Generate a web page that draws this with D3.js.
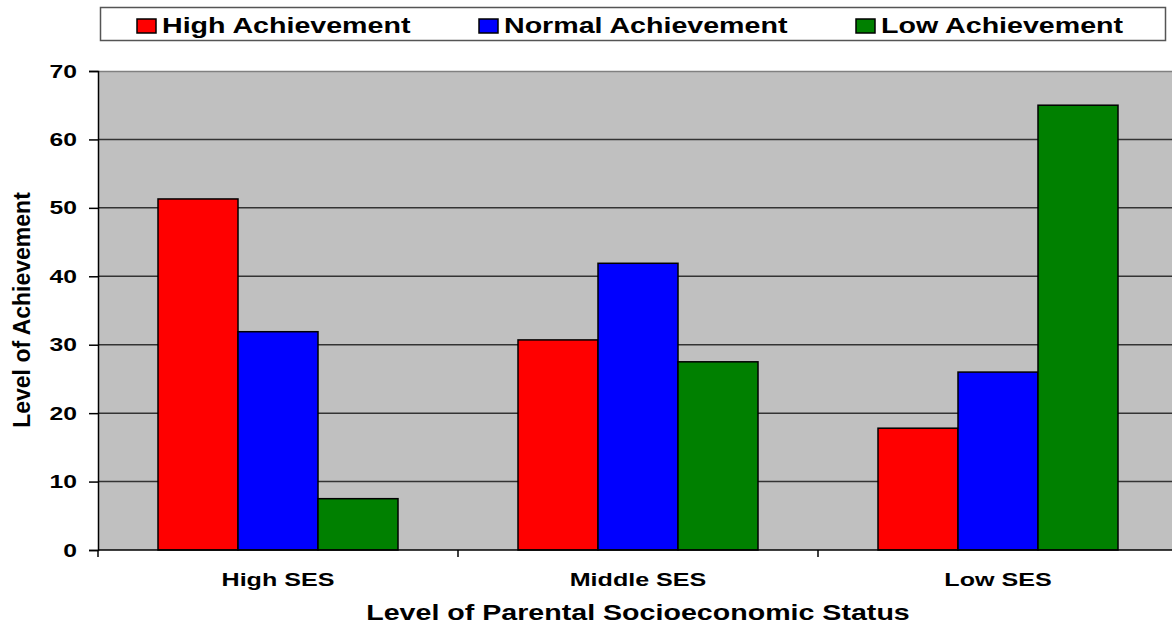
<!DOCTYPE html>
<html>
<head>
<meta charset="utf-8">
<script src="https://cdn.jsdelivr.net/npm/d3@7"></script>
<style>
  body { margin: 0; background: #fff; }
  svg { display: block; font-family: Arial, "Liberation Sans", sans-serif; }
</style>
</head>
<body>
<svg></svg>
<script>
const categories = ['High SES', 'Middle SES', 'Low SES'];
const seriesNames = ['High Achievement', 'Normal Achievement', 'Low Achievement'];
const highAch = [51.3, 30.7, 17.8];
const normalAch = [31.9, 41.9, 26.0];
const lowAch = [7.5, 27.5, 65.0];
const yTicks = [0, 10, 20, 30, 40, 50, 60, 70];
const colors = ['#ff0000', '#0000ff', '#008000'];

const seriesValues = [highAch, normalAch, lowAch];

const width = 1172;
const height = 628;
const margin = { top: 71, right: -6, bottom: 78, left: 98 };
const innerW = width - margin.left - margin.right;
const innerH = height - margin.top - margin.bottom;

// the original text is drawn wide, stretch glyphs to match
function widen(sel, k) {
  sel.each(function() {
    const w = this.getComputedTextLength();
    d3.select(this)
      .attr('textLength', w * k)
      .attr('lengthAdjust', 'spacingAndGlyphs');
  });
}

const svg = d3.select('svg')
  .attr('width', width)
  .attr('height', height);

const chart = svg.append('g')
  .attr('transform', `translate(${margin.left}, ${margin.top})`);

const xScale = d3.scaleBand()
  .domain(categories)
  .range([0, innerW])
  .paddingInner(0)
  .paddingOuter(0);

const xInner = d3.scaleBand()
  .domain(seriesNames)
  .range([60, xScale.bandwidth() - 60]);

const yScale = d3.scaleLinear()
  .domain([0, 70])
  .range([innerH, 0]);

// plot background
chart.append('rect')
  .attr('x', 0)
  .attr('y', 0)
  .attr('width', innerW)
  .attr('height', innerH)
  .attr('fill', '#c0c0c0');

// top border
chart.append('line')
  .attr('x1', 0).attr('x2', innerW)
  .attr('y1', 0.5).attr('y2', 0.5)
  .attr('stroke', '#808080')
  .attr('stroke-width', 1.5);

// grid lines
chart.append('g')
  .selectAll('line')
  .data(yTicks.filter(d => d > 0 && d < 70))
  .enter()
  .append('line')
  .attr('x1', 0).attr('x2', innerW)
  .attr('y1', d => yScale(d)).attr('y2', d => yScale(d))
  .attr('stroke', '#333')
  .attr('stroke-width', 1.5);

// bars
const groups = chart.selectAll('.grp')
  .data(categories)
  .enter()
  .append('g')
  .attr('class', 'grp')
  .attr('transform', d => `translate(${xScale(d)}, 0)`);

groups.selectAll('rect')
  .data((c, i) => seriesNames.map((s, j) => ({ s, j, v: seriesValues[j][i] })))
  .enter()
  .append('rect')
  .attr('x', d => xInner(d.s))
  .attr('y', d => yScale(d.v))
  .attr('width', xInner.bandwidth())
  .attr('height', d => innerH - yScale(d.v))
  .attr('fill', d => colors[d.j])
  .attr('stroke', '#000')
  .attr('stroke-width', 1.5);

// y axis
const yAxis = chart.append('g')
  .call(d3.axisLeft(yScale).tickValues(yTicks).tickSize(9).tickPadding(12));
yAxis.select('.domain').attr('stroke', '#000').attr('stroke-width', 1.5);
yAxis.selectAll('.tick line').attr('stroke', '#000').attr('stroke-width', 1.5);
yAxis.selectAll('text')
  .attr('font-size', 19)
  .attr('font-weight', 'bold')
  .attr('fill', '#000')
  .attr('font-family', 'Arial, "Liberation Sans", sans-serif')
  .call(widen, 1.3);

// x axis
const xAxisG = chart.append('g')
  .attr('transform', `translate(0, ${innerH})`);
xAxisG.append('line')
  .attr('x1', 0).attr('x2', innerW)
  .attr('y1', 0).attr('y2', 0)
  .attr('stroke', '#000')
  .attr('stroke-width', 1.5);
xAxisG.selectAll('.xtick')
  .data(categories)
  .enter()
  .append('line')
  .attr('x1', d => xScale(d)).attr('x2', d => xScale(d))
  .attr('y1', 0).attr('y2', 7)
  .attr('stroke', '#000')
  .attr('stroke-width', 1.5);
xAxisG.selectAll('.xlabel')
  .data(categories)
  .enter()
  .append('text')
  .attr('x', d => xScale(d) + xScale.bandwidth() / 2)
  .attr('y', 36)
  .attr('text-anchor', 'middle')
  .attr('font-size', 19)
  .attr('font-weight', 'bold')
  .text(d => d)
  .call(widen, 1.32);

// axis titles
svg.append('text')
  .attr('x', margin.left + 540)
  .attr('y', 620)
  .attr('text-anchor', 'middle')
  .attr('font-size', 22)
  .attr('font-weight', 'bold')
  .text('Level of Parental Socioeconomic Status')
  .call(widen, 1.3);

svg.append('text')
  .attr('transform', 'translate(30, 310) rotate(-90)')
  .attr('text-anchor', 'middle')
  .attr('font-size', 23)
  .attr('font-weight', 'bold')
  .attr('font-family', '"Liberation Sans Narrow", "Arial Narrow", Arial, sans-serif')
  .text('Level of Achievement');

// legend
svg.append('rect')
  .attr('x', 100.5)
  .attr('y', 7.5)
  .attr('width', 1065)
  .attr('height', 33)
  .attr('fill', '#fff')
  .attr('stroke', '#555')
  .attr('stroke-width', 1.5);

const legendX = [137, 479, 856];
const legend = svg.selectAll('.leg')
  .data(seriesNames)
  .enter()
  .append('g')
  .attr('transform', (d, i) => `translate(${legendX[i]}, 0)`);
legend.append('rect')
  .attr('x', 0).attr('y', 19)
  .attr('width', 19).attr('height', 14)
  .attr('fill', (d, i) => colors[i])
  .attr('stroke', '#000')
  .attr('stroke-width', 1.5);
legend.append('text')
  .attr('x', 25)
  .attr('y', 33)
  .attr('font-size', 22)
  .attr('font-weight', 'bold')
  .text(d => d)
  .call(widen, 1.3);
</script>
</body>
</html>
